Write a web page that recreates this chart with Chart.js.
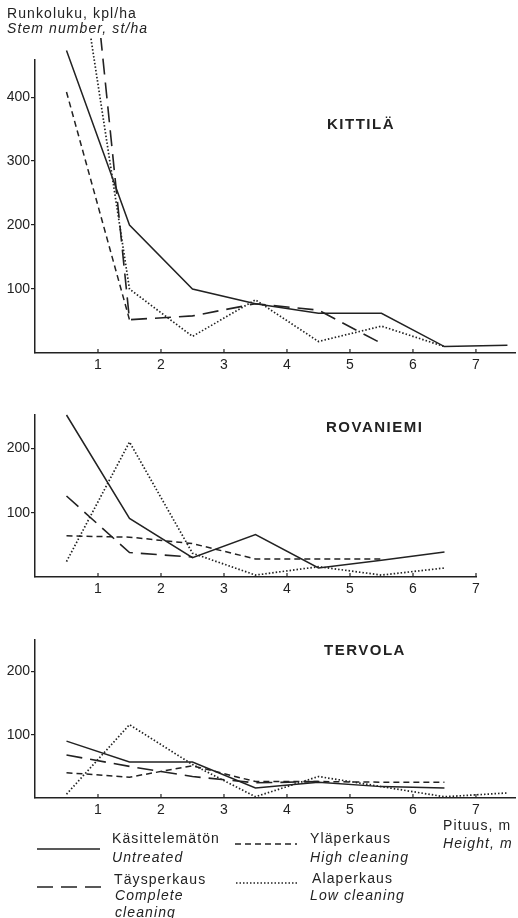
<!DOCTYPE html>
<html>
<head>
<meta charset="utf-8">
<script src="https://cdn.jsdelivr.net/npm/chart.js@4"></script>
<style>
  body { margin: 0; background: #fff; }
  #page { position: relative; width: 518px; height: 918px; overflow: hidden;
          font-family: 'Liberation Sans', Arial, sans-serif; color: #222; }
  #page canvas { position: absolute; left: 0; }
  .t { position: absolute; font-size: 14px; line-height: 16px; letter-spacing: 1.1px; white-space: nowrap; }
  .i { font-style: italic; }
  .ttl { position: absolute; font-size: 15px; line-height: 16px; font-weight: bold; letter-spacing: 1.5px; }
  svg { position: absolute; left: 0; top: 0; }
</style>
</head>
<body>
<div id="page">
  <canvas id="cKit" width="518" height="385" style="top:0"></canvas>
  <canvas id="cRov" width="518" height="215" style="top:390px"></canvas>
  <canvas id="cTer" width="518" height="215" style="top:615px"></canvas>

  <div class="t" style="left:7px;top:5px">Runkoluku, kpl/ha</div>
  <div class="t i" style="left:7px;top:20px">Stem number, st/ha</div>

  <div class="ttl" style="left:327px;top:116px">KITTILÄ</div>
  <div class="ttl" style="left:326px;top:419px">ROVANIEMI</div>
  <div class="ttl" style="left:324px;top:642px">TERVOLA</div>

  <div class="t" style="left:443px;top:817px">Pituus, m</div>
  <div class="t i" style="left:443px;top:835px">Height, m</div>

  <!-- legend -->
  <svg width="518" height="918">
    <line x1="37" y1="849" x2="100" y2="849" stroke="#222" stroke-width="1.6"/>
    <line x1="235" y1="844" x2="297" y2="844" stroke="#222" stroke-width="1.6" stroke-dasharray="6 4"/>
    <line x1="37" y1="887" x2="101" y2="887" stroke="#222" stroke-width="1.6" stroke-dasharray="16 8"/>
    <line x1="236" y1="883" x2="297" y2="883" stroke="#222" stroke-width="1.6" stroke-dasharray="1.5 2"/>
  </svg>
  <div class="t" style="left:112px;top:830px">Käsittelemätön</div>
  <div class="t i" style="left:112px;top:849px">Untreated</div>
  <div class="t" style="left:310px;top:830px">Yläperkaus</div>
  <div class="t i" style="left:310px;top:849px">High cleaning</div>
  <div class="t" style="left:114px;top:871px">Täysperkaus</div>
  <div class="t i" style="left:115px;top:887px">Complete</div>
  <div class="t i" style="left:115px;top:904px">cleaning</div>
  <div class="t" style="left:312px;top:870px">Alaperkaus</div>
  <div class="t i" style="left:310px;top:887px">Low cleaning</div>
</div>

<script>
// height class midpoints (m)
const heights = [0.5, 1.5, 2.5, 3.5, 4.5, 5.5, 6.5, 7.5];

// Kittilä, stems/ha
const kitUntreated = [473, 200, 100, 77, 62, 62, 10, 12];
const kitComplete  = [1020, 52, 58, 77, 67, 15];
const kitHigh      = [408, 52];
const kitLow       = [740, 100, 26, 83, 18, 42, 10];

// Rovaniemi
const rovUntreated = [252, 91, 30, 66, 14, 26, 39];
const rovComplete  = [126, 38, 31];
const rovHigh      = [64, 62, 52, 28, 28, 28];
const rovLow       = [24, 210, 37, 3, 16, 3, 14];

// Tervola
const terUntreated = [90, 57, 57, 16, 25, 18, 16];
const terComplete  = [68, 50, 34, 24, 26];
const terHigh      = [40, 33, 51, 26, 26, 25, 25];
const terLow       = [6, 116, 53, 2, 34, 18, 2, 8];

const INK = '#222';
const FONT = { family: "'Liberation Sans', Arial, sans-serif", size: 14 };

const STYLES = {
  untreated: { dash: [], width: 1.5 },
  complete:  { dash: [16, 8], width: 1.6 },
  high:      { dash: [6, 4], width: 1.5 },
  low:       { dash: [1.5, 2], width: 1.7 }
};

function toPoints(values) {
  return values.map(function(v, i) { return { x: heights[i], y: v }; });
}

function line(values, kind) {
  const s = STYLES[kind];
  return {
    data: toPoints(values),
    borderColor: INK,
    borderWidth: s.width,
    borderDash: s.dash,
    pointRadius: 0,
    tension: 0,
    fill: false,
    clip: { left: 0, top: 22, right: 0, bottom: 0 }
  };
}

// small tick marks pointing up from the x axis
const innerTicks = {
  id: 'innerTicks',
  afterDraw(chart) {
    const xs = chart.scales.x;
    const ctx = chart.ctx;
    ctx.save();
    ctx.strokeStyle = INK;
    ctx.lineWidth = 1.2;
    xs.ticks.forEach(function(t) {
      if (t.value === 0) return;
      const px = xs.getPixelForValue(t.value);
      ctx.beginPath();
      ctx.moveTo(px, xs.top);
      ctx.lineTo(px, xs.top - 4);
      ctx.stroke();
    });
    ctx.restore();
  }
};

function makeChart(id, opts) {
  return new Chart(document.getElementById(id).getContext('2d'), {
    type: 'line',
    data: { datasets: opts.datasets },
    plugins: [innerTicks],
    options: {
      responsive: false,
      animation: false,
      layout: { padding: { top: opts.padTop, right: opts.padRight, left: 0, bottom: 0 } },
      plugins: { legend: { display: false }, tooltip: { enabled: false } },
      scales: {
        x: {
          type: 'linear',
          min: 0,
          max: opts.xMax,
          afterFit: function(s) { s.height = opts.xHeight; },
          grid: { display: false },
          border: { display: true, color: INK, width: 1.5 },
          ticks: {
            stepSize: 1,
            includeBounds: false,
            padding: -4,
            maxRotation: 0,
            color: INK,
            font: FONT,
            callback: function(v) { return v === 0 ? '' : v; }
          }
        },
        y: {
          min: 0,
          max: opts.yMax,
          afterFit: function(s) { s.width = 35; },
          grid: {
            drawOnChartArea: false,
            tickLength: 4,
            color: function(c) { return c.tick && c.tick.value === 0 ? 'rgba(0,0,0,0)' : INK; },
            lineWidth: 1.2
          },
          border: { display: true, color: INK, width: 1.5 },
          ticks: {
            stepSize: 100,
            includeBounds: false,
            padding: 1,
            color: INK,
            font: FONT,
            callback: function(v) { return v === 0 ? '' : v; }
          }
        }
      }
    }
  });
}

makeChart('cKit', {
  padTop: 60, padRight: 3, xHeight: 32, xMax: 7.62, yMax: 458,
  datasets: [
    line(kitUntreated, 'untreated'),
    line(kitComplete, 'complete'),
    line(kitHigh, 'high'),
    line(kitLow, 'low')
  ]
});

makeChart('cRov', {
  padTop: 25, padRight: 42, xHeight: 28, xMax: 7, yMax: 252,
  datasets: [
    line(rovUntreated, 'untreated'),
    line(rovComplete, 'complete'),
    line(rovHigh, 'high'),
    line(rovLow, 'low')
  ]
});

makeChart('cTer', {
  padTop: 25, padRight: 3, xHeight: 32, xMax: 7.62, yMax: 250,
  datasets: [
    line(terUntreated, 'untreated'),
    line(terComplete, 'complete'),
    line(terHigh, 'high'),
    line(terLow, 'low')
  ]
});
</script>
</body>
</html>
